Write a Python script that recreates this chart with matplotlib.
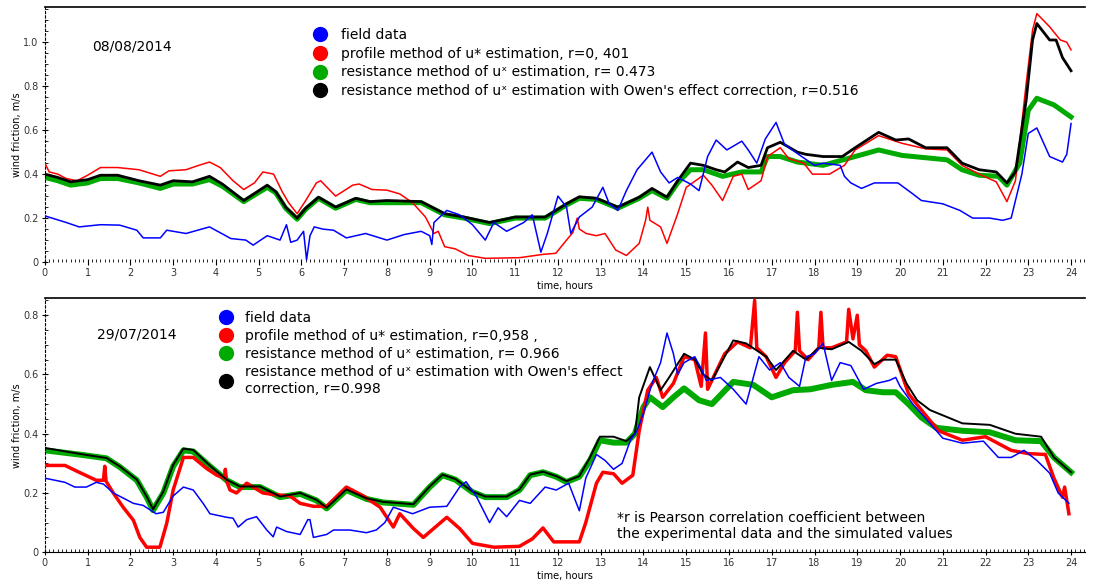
import numpy as np
import matplotlib.pyplot as plt
from matplotlib.lines import Line2D
from matplotlib.ticker import MultipleLocator, FuncFormatter

# (hour, u* m/s)
# --- 08/08/2014 ---
top_field = np.array([
    (0, 0.21), (0.5, 0.18), (0.8, 0.16), (1.3, 0.17), (1.75, 0.168), (2.15, 0.145), (2.3, 0.11),
    (2.7, 0.11), (2.85, 0.145), (3.3, 0.13), (3.85, 0.16), (4.35, 0.107), (4.7, 0.10), (4.87, 0.077),
    (5.2, 0.12), (5.5, 0.10), (5.65, 0.17), (5.75, 0.09), (5.9, 0.10), (6.05, 0.14), (6.12, 0.01),
    (6.2, 0.12), (6.3, 0.16), (6.5, 0.15), (6.75, 0.145), (7.05, 0.11), (7.5, 0.13), (8.0, 0.10),
    (8.4, 0.125), (8.8, 0.14), (9.0, 0.12), (9.05, 0.08), (9.1, 0.18), (9.4, 0.235), (9.7, 0.215),
    (10.0, 0.17), (10.3, 0.10), (10.5, 0.18), (10.8, 0.14), (11.2, 0.18), (11.4, 0.215), (11.6, 0.045),
    (11.75, 0.13), (12.0, 0.30), (12.2, 0.25), (12.3, 0.13), (12.5, 0.205), (12.8, 0.25), (13.05, 0.34),
    (13.2, 0.265), (13.4, 0.235), (13.6, 0.325), (13.85, 0.42), (14.2, 0.50), (14.4, 0.41), (14.6, 0.36),
    (14.8, 0.385), (15.1, 0.355), (15.3, 0.325), (15.5, 0.48), (15.7, 0.555), (15.95, 0.51), (16.3, 0.55),
    (16.45, 0.51), (16.65, 0.45), (16.85, 0.56), (17.1, 0.635), (17.3, 0.535), (17.7, 0.48), (18.0, 0.44),
    (18.2, 0.45), (18.6, 0.44), (18.7, 0.39), (18.85, 0.36), (19.1, 0.335), (19.4, 0.36), (19.95, 0.36),
    (20.3, 0.31), (20.5, 0.28), (21.0, 0.265), (21.4, 0.235), (21.7, 0.20), (22.1, 0.20), (22.4, 0.19),
    (22.6, 0.20), (22.85, 0.40), (23.0, 0.585), (23.2, 0.61), (23.5, 0.48), (23.8, 0.455), (23.9, 0.49),
    (24.0, 0.63)])
top_profile = np.array([
    (0, 0.45), (0.1, 0.41), (0.3, 0.40), (0.5, 0.38), (0.75, 0.37), (1.0, 0.395), (1.3, 0.43), (1.7, 0.43),
    (2.2, 0.42), (2.7, 0.39), (2.9, 0.415), (3.3, 0.42), (3.6, 0.44), (3.85, 0.455), (4.1, 0.43),
    (4.4, 0.37), (4.65, 0.33), (4.9, 0.36), (5.1, 0.41), (5.35, 0.40), (5.55, 0.32), (5.7, 0.27),
    (5.9, 0.22), (6.1, 0.28), (6.35, 0.36), (6.45, 0.37), (6.8, 0.30), (7.2, 0.35), (7.35, 0.355),
    (7.65, 0.33), (8.0, 0.327), (8.3, 0.31), (8.6, 0.27), (8.9, 0.205), (9.1, 0.13), (9.2, 0.14),
    (9.35, 0.07), (9.6, 0.06), (9.9, 0.03), (10.3, 0.017), (11.1, 0.02), (11.65, 0.035), (11.95, 0.04),
    (12.2, 0.10), (12.35, 0.135), (12.45, 0.2), (12.5, 0.15), (12.66, 0.13), (12.9, 0.12), (13.1, 0.13),
    (13.35, 0.055), (13.6, 0.03), (13.9, 0.085), (14.05, 0.19), (14.1, 0.25), (14.15, 0.19), (14.4, 0.16),
    (14.55, 0.085), (14.8, 0.22), (15.0, 0.34), (15.4, 0.395), (15.6, 0.35), (15.85, 0.28), (16.1, 0.39),
    (16.3, 0.40), (16.45, 0.33), (16.75, 0.37), (16.9, 0.48), (17.2, 0.52), (17.4, 0.47), (17.75, 0.45),
    (17.95, 0.40), (18.35, 0.40), (18.7, 0.44), (18.95, 0.51), (19.5, 0.575), (20.05, 0.54), (20.6, 0.515),
    (21.1, 0.51), (21.45, 0.44), (21.85, 0.40), (22.25, 0.365), (22.5, 0.275), (22.7, 0.37), (22.95, 0.81),
    (23.1, 1.055), (23.2, 1.13), (23.5, 1.07), (23.75, 1.01), (23.9, 1.0), (24.0, 0.965)])
top_resist = np.array([
    (0, 0.385), (0.3, 0.37), (0.6, 0.35), (1.0, 0.36), (1.3, 0.38), (1.7, 0.38), (2.2, 0.36), (2.7, 0.335),
    (3.0, 0.355), (3.45, 0.355), (3.85, 0.375), (4.15, 0.345), (4.65, 0.275), (5.2, 0.34), (5.4, 0.315),
    (5.63, 0.245), (5.9, 0.195), (6.1, 0.24), (6.4, 0.29), (6.8, 0.245), (7.27, 0.285), (7.6, 0.27),
    (8.0, 0.27), (8.8, 0.27), (9.35, 0.215), (9.8, 0.20), (10.4, 0.175), (11.0, 0.2), (11.7, 0.2),
    (12.2, 0.26), (12.5, 0.29), (12.9, 0.285), (13.4, 0.245), (13.9, 0.29), (14.2, 0.325), (14.55, 0.29),
    (14.8, 0.36), (15.1, 0.42), (15.4, 0.42), (15.85, 0.39), (16.3, 0.41), (16.75, 0.41), (16.9, 0.48),
    (17.2, 0.48), (17.6, 0.455), (18.2, 0.44), (18.95, 0.48), (19.5, 0.51), (20.05, 0.485), (21.1, 0.465),
    (21.45, 0.42), (21.85, 0.395), (22.3, 0.39), (22.5, 0.35), (22.8, 0.45), (23.0, 0.69), (23.2, 0.745),
    (23.6, 0.715), (24.0, 0.66)])
top_owen = np.array([
    (0, 0.40), (0.3, 0.385), (0.6, 0.365), (1.0, 0.375), (1.3, 0.395), (1.7, 0.395), (2.2, 0.37), (2.7, 0.35),
    (3.0, 0.37), (3.45, 0.365), (3.85, 0.39), (4.15, 0.355), (4.65, 0.28), (5.2, 0.35), (5.4, 0.32),
    (5.63, 0.25), (5.9, 0.20), (6.1, 0.245), (6.4, 0.295), (6.8, 0.25), (7.27, 0.29), (7.6, 0.275),
    (8.0, 0.28), (8.8, 0.275), (9.35, 0.22), (9.8, 0.205), (10.4, 0.18), (11.0, 0.205), (11.7, 0.205),
    (12.2, 0.265), (12.5, 0.297), (12.9, 0.29), (13.4, 0.25), (13.9, 0.295), (14.2, 0.335), (14.55, 0.295),
    (14.8, 0.37), (15.1, 0.45), (15.4, 0.44), (15.7, 0.42), (15.9, 0.41), (16.2, 0.455), (16.45, 0.43),
    (16.75, 0.44), (16.9, 0.52), (17.2, 0.545), (17.6, 0.50), (17.8, 0.49), (18.2, 0.48), (18.65, 0.48),
    (18.95, 0.52), (19.5, 0.59), (19.9, 0.555), (20.2, 0.56), (20.6, 0.52), (21.1, 0.52), (21.45, 0.45),
    (21.85, 0.42), (22.25, 0.41), (22.5, 0.36), (22.7, 0.41), (22.95, 0.735), (23.1, 1.01), (23.2, 1.085),
    (23.5, 1.01), (23.65, 1.01), (23.8, 0.93), (24.0, 0.87)])

# --- 29/07/2014 ---
bot_field = np.array([
    (0, 0.25), (0.47, 0.236), (0.7, 0.22), (0.97, 0.22), (1.2, 0.236), (1.37, 0.23), (1.6, 0.20),
    (1.83, 0.183), (2.07, 0.165), (2.3, 0.158), (2.6, 0.13), (2.77, 0.135), (3.0, 0.19), (3.24, 0.22),
    (3.47, 0.21), (3.7, 0.165), (3.86, 0.13), (4.25, 0.118), (4.4, 0.115), (4.52, 0.085), (4.72, 0.11),
    (4.95, 0.12), (5.19, 0.075), (5.34, 0.052), (5.42, 0.085), (5.65, 0.07), (5.97, 0.06), (6.15, 0.11),
    (6.2, 0.11), (6.28, 0.05), (6.59, 0.06), (6.75, 0.075), (7.13, 0.075), (7.52, 0.066), (7.75, 0.075),
    (7.95, 0.1), (8.15, 0.152), (8.6, 0.13), (9.0, 0.152), (9.4, 0.155), (9.7, 0.22), (9.85, 0.238),
    (10.1, 0.186), (10.4, 0.1), (10.6, 0.15), (10.8, 0.12), (11.1, 0.175), (11.35, 0.165), (11.7, 0.22),
    (11.96, 0.21), (12.25, 0.233), (12.5, 0.14), (12.65, 0.25), (12.9, 0.33), (13.1, 0.31), (13.3, 0.28),
    (13.5, 0.30), (13.7, 0.38), (13.85, 0.41), (14.0, 0.47), (14.2, 0.57), (14.4, 0.64), (14.55, 0.74),
    (14.7, 0.67), (14.8, 0.60), (14.95, 0.64), (15.2, 0.66), (15.35, 0.62), (15.47, 0.58), (15.8, 0.59),
    (16.1, 0.55), (16.4, 0.50), (16.7, 0.66), (16.95, 0.615), (17.2, 0.64), (17.4, 0.59), (17.65, 0.56),
    (17.8, 0.66), (18.0, 0.67), (18.2, 0.705), (18.4, 0.58), (18.6, 0.64), (18.85, 0.63), (19.15, 0.55),
    (19.45, 0.57), (19.75, 0.58), (19.9, 0.59), (20.0, 0.56), (20.3, 0.50), (20.7, 0.435), (21.0, 0.385),
    (21.46, 0.368), (21.95, 0.375), (22.3, 0.32), (22.6, 0.32), (22.9, 0.344), (23.2, 0.31), (23.5, 0.267),
    (23.7, 0.2), (23.95, 0.165)])
bot_profile = np.array([
    (0, 0.293), (0.47, 0.293), (0.8, 0.27), (1.2, 0.243), (1.37, 0.243), (1.4, 0.29), (1.43, 0.24),
    (1.6, 0.20), (1.83, 0.152), (2.07, 0.108), (2.22, 0.05), (2.38, 0.017), (2.69, 0.017), (2.85, 0.098),
    (3.0, 0.21), (3.24, 0.32), (3.47, 0.32), (3.78, 0.283), (4.02, 0.26), (4.2, 0.25), (4.22, 0.28),
    (4.25, 0.24), (4.33, 0.21), (4.48, 0.20), (4.72, 0.233), (5.1, 0.20), (5.34, 0.195), (5.73, 0.19),
    (5.97, 0.165), (6.28, 0.155), (6.59, 0.155), (7.05, 0.22), (7.45, 0.19), (7.84, 0.152), (8.15, 0.085),
    (8.3, 0.13), (8.62, 0.08), (8.85, 0.05), (9.4, 0.118), (9.7, 0.08), (10.0, 0.03), (10.5, 0.017),
    (11.1, 0.02), (11.4, 0.045), (11.65, 0.082), (11.9, 0.035), (12.5, 0.035), (12.65, 0.1), (12.9, 0.233),
    (13.05, 0.27), (13.3, 0.265), (13.5, 0.233), (13.75, 0.26), (13.9, 0.41), (14.1, 0.547), (14.3, 0.59),
    (14.45, 0.523), (14.7, 0.57), (14.95, 0.66), (15.2, 0.65), (15.35, 0.56), (15.45, 0.74), (15.5, 0.55),
    (15.9, 0.67), (16.2, 0.71), (16.5, 0.69), (16.6, 0.85), (16.65, 0.69), (16.87, 0.66), (17.1, 0.59),
    (17.3, 0.64), (17.55, 0.68), (17.6, 0.81), (17.65, 0.68), (17.85, 0.65), (18.1, 0.69), (18.15, 0.81),
    (18.2, 0.69), (18.4, 0.69), (18.75, 0.71), (18.8, 0.82), (18.9, 0.72), (19.0, 0.80), (19.05, 0.70),
    (19.2, 0.68), (19.4, 0.625), (19.7, 0.665), (19.9, 0.66), (20.2, 0.535), (20.5, 0.48), (20.9, 0.41),
    (21.46, 0.378), (22.0, 0.39), (22.6, 0.344), (23.0, 0.333), (23.4, 0.33), (23.6, 0.25), (23.8, 0.186),
    (23.85, 0.22), (23.95, 0.13)])
bot_resist = np.array([
    (0, 0.344), (0.9, 0.328), (1.44, 0.317), (1.75, 0.288), (2.15, 0.243), (2.38, 0.186), (2.53, 0.142),
    (2.77, 0.2), (3.0, 0.29), (3.24, 0.344), (3.47, 0.34), (3.86, 0.29), (4.25, 0.243), (4.56, 0.22),
    (5.03, 0.22), (5.5, 0.186), (5.97, 0.197), (6.35, 0.175), (6.59, 0.148), (7.05, 0.21), (7.52, 0.18),
    (7.91, 0.168), (8.62, 0.16), (9.0, 0.22), (9.3, 0.26), (9.6, 0.245), (10.0, 0.203), (10.3, 0.186),
    (10.8, 0.186), (11.1, 0.21), (11.35, 0.26), (11.65, 0.27), (11.96, 0.255), (12.2, 0.237), (12.5, 0.255),
    (12.75, 0.31), (12.98, 0.378), (13.3, 0.37), (13.6, 0.37), (13.8, 0.40), (14.0, 0.49), (14.15, 0.523),
    (14.45, 0.49), (14.7, 0.523), (14.95, 0.553), (15.3, 0.513), (15.6, 0.50), (16.1, 0.575), (16.57, 0.565),
    (17.0, 0.523), (17.5, 0.547), (17.9, 0.55), (18.4, 0.565), (18.9, 0.575), (19.2, 0.547), (19.6, 0.54),
    (19.9, 0.54), (20.2, 0.50), (20.5, 0.455), (20.85, 0.42), (21.46, 0.41), (22.1, 0.405), (22.7, 0.378),
    (23.3, 0.375), (23.6, 0.32), (24.0, 0.27)])
bot_owen = np.array([
    (0, 0.352), (0.9, 0.33), (1.44, 0.318), (1.75, 0.29), (2.15, 0.245), (2.38, 0.188), (2.53, 0.145),
    (2.77, 0.205), (3.0, 0.295), (3.24, 0.35), (3.47, 0.345), (3.86, 0.292), (4.25, 0.245), (4.56, 0.222),
    (5.03, 0.222), (5.5, 0.188), (5.97, 0.2), (6.35, 0.177), (6.59, 0.15), (7.05, 0.212), (7.52, 0.182),
    (7.91, 0.17), (8.62, 0.162), (9.0, 0.222), (9.3, 0.262), (9.6, 0.247), (10.0, 0.205), (10.3, 0.188),
    (10.8, 0.188), (11.1, 0.212), (11.35, 0.262), (11.65, 0.272), (11.96, 0.257), (12.2, 0.24), (12.5, 0.257),
    (12.75, 0.32), (12.98, 0.39), (13.3, 0.39), (13.6, 0.375), (13.8, 0.40), (13.9, 0.523), (14.15, 0.625),
    (14.4, 0.547), (14.6, 0.59), (14.95, 0.67), (15.2, 0.65), (15.4, 0.60), (15.6, 0.58), (16.1, 0.715),
    (16.4, 0.705), (16.87, 0.66), (17.1, 0.615), (17.5, 0.68), (17.8, 0.65), (18.1, 0.69), (18.4, 0.685),
    (18.8, 0.71), (19.1, 0.68), (19.4, 0.635), (19.6, 0.65), (19.9, 0.65), (20.15, 0.57), (20.4, 0.513),
    (20.7, 0.48), (21.46, 0.435), (22.1, 0.43), (22.7, 0.40), (23.3, 0.39), (23.6, 0.32), (24.0, 0.27)])

hour_ticks = list(range(25))

top_labels = ["field data",
              "profile method of u* estimation, r=0, 401",
              "resistance method of u\u02e3 estimation, r= 0.473",
              "resistance method of u\u02e3 estimation with Owen's effect correction, r=0.516"]
bot_labels = ["field data",
              "profile method of u* estimation, r=0,958 ,",
              "resistance method of u\u02e3 estimation, r= 0.966",
              "resistance method of u\u02e3 estimation with Owen's effect\ncorrection, r=0.998"]

colors = ['#0000ff', '#ff0000', '#00aa00', '#000000']

fig = plt.figure(figsize=(10.95, 5.85), dpi=100)
ax1 = fig.add_axes([0.041, 0.552, 0.950, 0.436])
ax2 = fig.add_axes([0.041, 0.056, 0.950, 0.434])


def style(ax, ymax, bottom_line):
    ax.set_xlim(0, 24.33)
    ax.set_ylim(0, ymax)
    ax.set_xticks(hour_ticks)
    ax.xaxis.set_minor_locator(MultipleLocator(0.1))
    ax.yaxis.set_major_locator(MultipleLocator(0.2))
    ax.yaxis.set_minor_locator(MultipleLocator(0.05))
    ax.yaxis.set_major_formatter(FuncFormatter(lambda v, p: '0' if v == 0 else f'{v:.1f}'))
    ax.tick_params(axis='both', which='major', direction='inout', length=5, width=0.8,
                   labelsize=7, labelcolor='#333333', pad=2)
    ax.tick_params(axis='both', which='minor', direction='in', length=2, width=0.6)
    ax.spines['right'].set_visible(False)
    ax.spines['top'].set_linewidth(1.2)
    ax.spines['left'].set_linestyle((0, (2, 2)))
    ax.spines['left'].set_linewidth(0.8)
    ax.spines['bottom'].set_visible(bottom_line)
    ax.spines['bottom'].set_linewidth(0.8)
    ax.set_xlabel('time, hours', fontsize=7, labelpad=2)
    ax.set_ylabel('wind friction, m/s', fontsize=7, labelpad=1)


# top panel
ax1.plot(top_resist[:, 0], top_resist[:, 1], color=colors[2], lw=3.6, zorder=2)
ax1.plot(top_profile[:, 0], top_profile[:, 1], color=colors[1], lw=1.1, zorder=3)
ax1.plot(top_owen[:, 0], top_owen[:, 1], color=colors[3], lw=2.0, zorder=4)
ax1.plot(top_field[:, 0], top_field[:, 1], color=colors[0], lw=1.1, zorder=5)
style(ax1, 1.16, False)

# bottom panel
ax2.plot(bot_resist[:, 0], bot_resist[:, 1], color=colors[2], lw=4.3, zorder=2)
ax2.plot(bot_profile[:, 0], bot_profile[:, 1], color=colors[1], lw=2.5, zorder=3)
ax2.plot(bot_owen[:, 0], bot_owen[:, 1], color=colors[3], lw=1.4, zorder=4)
ax2.plot(bot_field[:, 0], bot_field[:, 1], color=colors[0], lw=1.1, zorder=5)
style(ax2, 0.857, True)

handles = [Line2D([], [], ls='', marker='o', ms=11, mew=0, color=c) for c in colors]
ax1.legend(handles, top_labels, loc='upper left', bbox_to_anchor=(313 / 1095, 1 - 28 / 585),
           bbox_transform=fig.transFigure, frameon=False, fontsize=10, handlelength=1.0,
           handletextpad=1.0, borderpad=0, borderaxespad=0, labelspacing=0.34)
ax2.legend(handles, bot_labels, loc='upper left', bbox_to_anchor=(219 / 1095, 1 - 311 / 585),
           bbox_transform=fig.transFigure, frameon=False, fontsize=10, handlelength=1.0,
           handletextpad=0.9, borderpad=0, borderaxespad=0, labelspacing=0.3)

fig.text(92 / 1095, 1 - 47 / 585, '08/08/2014', fontsize=10, va='center')
fig.text(97 / 1095, 1 - 334 / 585, '29/07/2014', fontsize=10, va='center')
fig.text(617 / 1095, 1 - 526 / 585,
         '*r is Pearson correlation coefficient between\nthe experimental data and the simulated values',
         fontsize=10, va='center', linespacing=1.2)

fig.savefig('out.png', dpi=100)
